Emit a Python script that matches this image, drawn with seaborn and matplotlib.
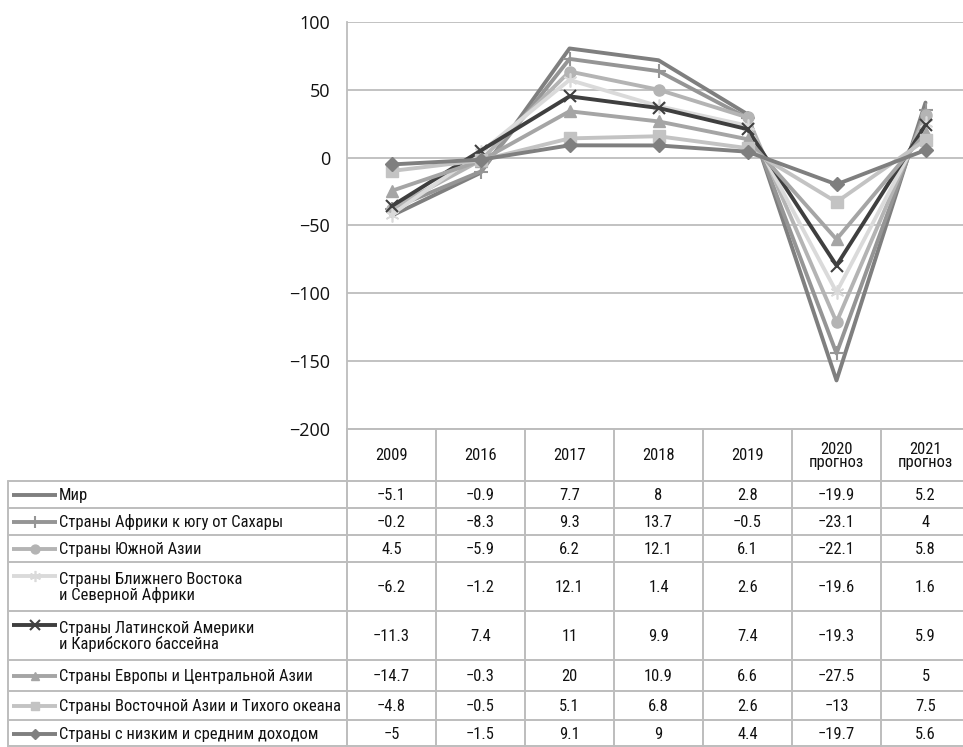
import numpy as np
import pandas as pd
import matplotlib
matplotlib.use("Agg")
import matplotlib.pyplot as plt
from matplotlib import font_manager as fm
import seaborn as sns

# ---------------- data ----------------
years = ["2009", "2016", "2017", "2018", "2019", "2020\nпрогноз", "2021\nпрогноз"]
series_names = [
    "Мир",
    "Страны Африки к югу от Сахары",
    "Страны Южной Азии",
    "Страны Ближнего Востока\nи Северной Африки",
    "Страны Латинской Америки\nи Карибского бассейна",
    "Страны Европы и Центральной Азии",
    "Страны Восточной Азии и Тихого океана",
    "Страны с низким и средним доходом",
]
world      = [-5.1, -0.9, 7.7, 8, 2.8, -19.9, 5.2]
ssa        = [-0.2, -8.3, 9.3, 13.7, -0.5, -23.1, 4]
south_asia = [4.5, -5.9, 6.2, 12.1, 6.1, -22.1, 5.8]
mena       = [-6.2, -1.2, 12.1, 1.4, 2.6, -19.6, 1.6]
lac        = [-11.3, 7.4, 11, 9.9, 7.4, -19.3, 5.9]
eca        = [-14.7, -0.3, 20, 10.9, 6.6, -27.5, 5]
eap        = [-4.8, -0.5, 5.1, 6.8, 2.6, -13, 7.5]
lmic       = [-5, -1.5, 9.1, 9, 4.4, -19.7, 5.6]
values = [world, ssa, south_asia, mena, lac, eca, eap, lmic]
value_labels = [
    ["−5.1", "−0.9", "7.7", "8", "2.8", "−19.9", "5.2"],
    ["−0.2", "−8.3", "9.3", "13.7", "−0.5", "−23.1", "4"],
    ["4.5", "−5.9", "6.2", "12.1", "6.1", "−22.1", "5.8"],
    ["−6.2", "−1.2", "12.1", "1.4", "2.6", "−19.6", "1.6"],
    ["−11.3", "7.4", "11", "9.9", "7.4", "−19.3", "5.9"],
    ["−14.7", "−0.3", "20", "10.9", "6.6", "−27.5", "5"],
    ["−4.8", "−0.5", "5.1", "6.8", "2.6", "−13", "7.5"],
    ["−5", "−1.5", "9.1", "9", "4.4", "−19.7", "5.6"],
]
y_ticks = [-200, -150, -100, -50, 0, 50, 100]

# ---------------- styles ----------------
colors = ["#7f7f7f", "#959595", "#b4b4b4", "#dadada", "#3f3f3f", "#a5a5a5", "#c3c3c3", "#7f7f7f"]
markers = [None, "+", "o", (6, 2, 0), "x", "^", "s", "D"]
msizes = [0, 10, 8, 10, 9, 8, 8, 7]
mew = [0, 1.5, 1, 1.2, 1.5, 1, 1, 1]

sns.set_theme(style="white")
plt.rcParams["font.family"] = ["Open Sans", "DejaVu Sans"]

# pick a narrow font for the table
entries = [(f.name, str(f.stretch)) for f in fm.fontManager.ttflist]
if any(n == "Roboto Condensed" for n, s in entries):
    tfont = dict(family=["Roboto Condensed", "DejaVu Sans"])
    tsize = 11.9
elif any(n == "DejaVu Sans" and "condensed" in s for n, s in entries):
    tfont = dict(family=["DejaVu Sans"], fontstretch="condensed")
    tsize = 10.5
elif any(n == "Liberation Sans Narrow" for n, s in entries):
    tfont = dict(family=["Liberation Sans Narrow", "DejaVu Sans"])
    tsize = 11.5
else:
    tfont = dict(family=["Roboto", "DejaVu Sans"])
    tsize = 10.5

W, H = 963, 747
fig = plt.figure(figsize=(W / 100, H / 100), dpi=100)

left_px, top_px, bot_px = 347, 22, 429
col_w = 89
right_px = left_px + col_w * 7

ax = fig.add_axes([left_px / W, 1 - bot_px / H, (right_px - left_px) / W, (bot_px - top_px) / H])

# stacked lines (stacking from the last series upward)
stack = np.cumsum(np.array(values[::-1], dtype=float), axis=0)[::-1]
xpos = np.arange(len(years))
for i, name in enumerate(series_names):
    df = pd.DataFrame({"x": xpos, "y": stack[i]})
    kw = dict(marker=markers[i], markersize=msizes[i], markeredgewidth=mew[i],
              markeredgecolor=colors[i], markerfacecolor=colors[i]) if markers[i] is not None else {}
    sns.lineplot(data=df, x="x", y="y", ax=ax, color=colors[i], linewidth=2.8,
                 legend=False, zorder=3 + i, **kw)

ax.set_xlim(-0.5, 6.5)
ax.set_ylim(-200, 100)
ax.set_yticks(y_ticks)
ax.set_yticklabels([str(v).replace("-", "−") for v in y_ticks], fontsize=13, color="#111111")
ax.set_xticks([])
ax.set_xlabel("")
ax.set_ylabel("")
ax.yaxis.grid(True, color="#bdbdbd", linewidth=1.3)
ax.xaxis.grid(False)
for s in ["top", "right", "bottom"]:
    ax.spines[s].set_visible(False)
ax.spines["left"].set_color("#bdbdbd")
ax.spines["left"].set_linewidth(1.3)
ax.tick_params(axis="y", length=0, pad=12)

# ---------------- data table ----------------
axt = fig.add_axes([0, 0, 1, 1], facecolor="none")
axt.set_xlim(0, W)
axt.set_ylim(H, 0)
axt.axis("off")

line_c = "#bdbdbd"
lw = 1.4
row_edges = [481, 508, 535, 562, 611, 660, 691, 720, 747]
header_top = 429
axt.plot([left_px, right_px], [header_top, header_top], color=line_c, lw=lw)
for y in row_edges[:-1]:
    axt.plot([8, right_px], [y, y], color=line_c, lw=lw)
axt.plot([8, right_px], [746, 746], color=line_c, lw=lw)
axt.plot([8, 8], [481, 747], color=line_c, lw=lw)
for k in range(8):
    xk = left_px + col_w * k
    axt.plot([xk, xk], [header_top, 747], color=line_c, lw=lw)

for k, lab in enumerate(years):
    xc = left_px + col_w * (k + 0.5)
    axt.text(xc, (header_top + 481) / 2 + 1, lab, ha="center", va="center",
             fontsize=tsize, color="#111111", linespacing=0.85, **tfont)

for i, name in enumerate(series_names):
    y0, y1 = row_edges[i], row_edges[i + 1]
    yc = (y0 + y1) / 2
    two = "\n" in name
    icon_y = yc - 11 if two else yc
    axt.plot([12, 57], [icon_y, icon_y], color=colors[i], lw=2.8, solid_capstyle="butt")
    if markers[i] is not None:
        axt.plot([34.5], [icon_y], marker=markers[i], markersize=msizes[i] * 0.8,
                 markeredgewidth=mew[i], color=colors[i], markeredgecolor=colors[i],
                 markerfacecolor=colors[i], linestyle="none")
    axt.text(59, yc + 1, name, ha="left", va="center", fontsize=tsize,
             color="#111111", linespacing=1.05, **tfont)
    for k, v in enumerate(value_labels[i]):
        xc = left_px + col_w * (k + 0.5)
        axt.text(xc, yc + 1, v, ha="center", va="center", fontsize=tsize,
                 color="#111111", **tfont)

fig.savefig("out.png", dpi=100)
